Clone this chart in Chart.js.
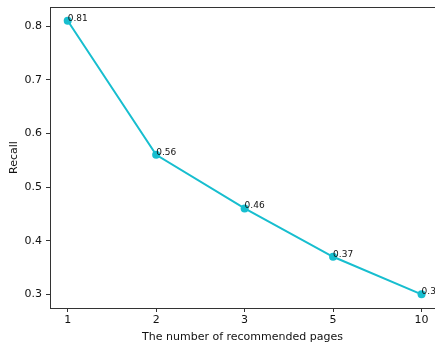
<!DOCTYPE html>
<html>
<head>
<meta charset="utf-8">
<script src="https://cdn.jsdelivr.net/npm/chart.js@4/dist/chart.umd.min.js"></script>
<style>
    html, body { margin: 0; padding: 0; background: #fff; overflow: hidden; }
    #wrap { position: relative; width: 435px; height: 345px; }
</style>
</head>
<body>
<div id="wrap"><canvas id="recallChart"></canvas></div>
<script>
    var pages = ['1', '2', '3', '5', '10'];
    var recall = [0.81, 0.56, 0.46, 0.37, 0.30];
    var recallText = ['0.81', '0.56', '0.46', '0.37', '0.3'];
    var yTicks = [0.3, 0.4, 0.5, 0.6, 0.7, 0.8];

    var lineColor = '#17becf';
    var axisColor = '#333333';
    var textColor = '#111111';
    var font = 'DejaVu Sans';

    // top border of the frame (right side falls outside the picture)
    var framePlugin = {
        id: 'frame',
        afterDraw: function (chart) {
            var a = chart.chartArea;
            var ctx = chart.ctx;
            ctx.save();
            ctx.strokeStyle = axisColor;
            ctx.lineWidth = 1;
            ctx.beginPath();
            ctx.moveTo(a.left, a.top + 0.5);
            ctx.lineTo(a.right, a.top + 0.5);
            ctx.stroke();
            ctx.restore();
        }
    };

    // value text next to each point
    var pointTextPlugin = {
        id: 'pointText',
        afterDatasetsDraw: function (chart) {
            var ctx = chart.ctx;
            var meta = chart.getDatasetMeta(0);
            ctx.save();
            ctx.font = '9px "' + font + '"';
            ctx.fillStyle = textColor;
            ctx.textAlign = 'left';
            ctx.textBaseline = 'alphabetic';
            meta.data.forEach(function (pt, i) {
                ctx.fillText(recallText[i], pt.x, pt.y);
            });
            ctx.restore();
        }
    };

    function noPad(scale) {
        scale.paddingLeft = 0;
        scale.paddingRight = 0;
        scale.paddingTop = 0;
        scale.paddingBottom = 0;
    }

    var points = recall.map(function (v, i) { return { x: i, y: v }; });

    new Chart(document.getElementById('recallChart'), {
        type: 'line',
        data: {
            datasets: [{
                data: points,
                borderColor: lineColor,
                backgroundColor: lineColor,
                borderWidth: 2,
                pointRadius: 4,
                pointBorderWidth: 0,
                tension: 0,
                clip: false
            }]
        },
        options: {
            responsive: true,
            maintainAspectRatio: false,
            animation: false,
            layout: { autoPadding: false, padding: { top: 7, right: 0, left: 0, bottom: 0 } },
            plugins: { legend: { display: false }, tooltip: { enabled: false } },
            scales: {
                x: {
                    type: 'linear',
                    min: -0.2,
                    max: 4.152,
                    afterBuildTicks: function (scale) {
                        scale.ticks = pages.map(function (p, i) { return { value: i }; });
                    },
                    afterFit: function (scale) { scale.height = 37; noPad(scale); },
                    ticks: {
                        callback: function (v) { return pages[v]; },
                        color: textColor,
                        font: { family: font, size: 11 },
                        padding: 2,
                        maxRotation: 0
                    },
                    grid: { drawOnChartArea: false, tickLength: 4, color: axisColor },
                    border: { color: axisColor },
                    title: {
                        display: true,
                        text: 'The number of recommended pages',
                        color: textColor,
                        font: { family: font, size: 11 },
                        padding: { top: 0, bottom: 1 }
                    }
                },
                y: {
                    min: 0.2745,
                    max: 0.8355,
                    afterBuildTicks: function (scale) {
                        scale.ticks = yTicks.map(function (v) { return { value: v }; });
                    },
                    afterFit: function (scale) { scale.width = 50; noPad(scale); },
                    ticks: {
                        callback: function (v) { return v.toFixed(1); },
                        color: textColor,
                        font: { family: font, size: 11 },
                        padding: 4
                    },
                    grid: { drawOnChartArea: false, tickLength: 4, color: axisColor },
                    border: { color: axisColor },
                    title: {
                        display: true,
                        text: 'Recall',
                        color: textColor,
                        font: { family: font, size: 11 },
                        padding: { top: 8, bottom: 0 }
                    }
                }
            }
        },
        plugins: [framePlugin, pointTextPlugin]
    });
</script>
</body>
</html>
